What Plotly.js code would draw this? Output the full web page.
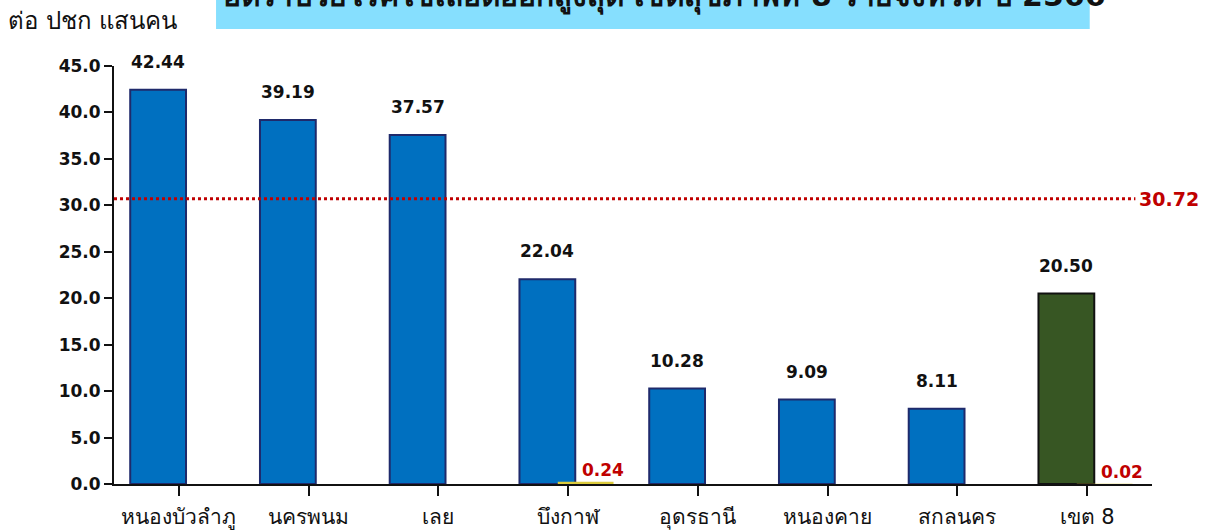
<!DOCTYPE html>
<html><head><meta charset="utf-8">
<script src="https://cdn.plot.ly/plotly-3.0.1.min.js"></script>
<style>body{margin:0;background:#fff}#c{width:1212px;height:530px}</style>
</head><body><div id="c"></div>
<script>
const provinces = ["หนองบัวลำภู","นครพนม","เลย","บึงกาฬ","อุดรธานี","หนองคาย","สกลนคร","เขต 8"];
const morbidity = [42.44, 39.19, 37.57, 22.04, 10.28, 9.09, 8.11, 20.50];
const mortality = [0, 0, 0, 0.24, 0, 0, 0, 0.02];
const countryRate = 30.72;
const yTicks = [0,5,10,15,20,25,30,35,40,45];
const titleText = "อัตราป่วยโรคไข้เลือดออกสูงสุด เขตสุขภาพที่ 8 รายจังหวัด ปี 2566";
const yTitle = "ต่อ ปชก แสนคน";

const F = "'DejaVu Sans', Tahoma, 'Noto Sans', sans-serif";
const xIdx = provinces.map((_, i) => i);
const barColors = provinces.map((p, i) => i === provinces.length - 1 ? "#375623" : "#0070c0");
const lineColors = provinces.map((p, i) => i === provinces.length - 1 ? "#111" : "#1f2a6b");

const traces = [
  {type: "bar", x: xIdx, y: morbidity, offset: -0.375, width: 0.43,
   marker: {color: barColors, line: {color: lineColors, width: 2}}, hoverinfo: "skip"},
  {type: "bar", x: xIdx, y: mortality, offset: -0.08, width: 0.43,
   marker: {color: "#dccb3c", line: {width: 0}}, hoverinfo: "skip"}
];

const annotations = [];
morbidity.forEach((v, i) => annotations.push({
  x: i - 0.16, y: v, xref: "x", yref: "y", text: v.toFixed(2), showarrow: false,
  yanchor: "bottom", yshift: 16, font: {family: F, size: 17, color: "#111", weight: "bold"}
}));
mortality.forEach((v, i) => { if (v > 0) annotations.push({
  x: i + 0.27, y: v, xref: "x", yref: "y", text: v.toFixed(2), showarrow: false,
  yanchor: "bottom", yshift: 0, font: {family: F, size: 17, color: "#c00000", weight: "bold"}
}); });
annotations.push({x: 0.986, y: countryRate, xref: "paper", yref: "y", text: countryRate.toFixed(2),
  showarrow: false, xanchor: "left", font: {family: F, size: 19, color: "#c00000", weight: "bold"}});
annotations.push({x: -0.104, y: 1.108, xref: "paper", yref: "paper", text: yTitle, showarrow: false,
  xanchor: "left", yanchor: "middle", font: {family: F, size: 24, color: "#111"}});
annotations.push({x: 0.5305, y: 1.118, xref: "paper", yref: "paper", text: titleText, showarrow: false,
  xanchor: "center", yanchor: "bottom", font: {family: F, size: 30, color: "#111", weight: "bold"}});

const layout = {
  width: 1212, height: 530,
  margin: {l: 114, r: 60, t: 66, b: 46},
  paper_bgcolor: "#fff", plot_bgcolor: "#fff",
  showlegend: false, barmode: "overlay",
  xaxis: {range: [-0.5, 7.5], tickvals: xIdx, ticktext: provinces, tickson: "boundaries",
    ticks: "outside", ticklen: 10, tickwidth: 2, tickcolor: "#111", ticklabelstandoff: 3,
    showline: true, linecolor: "#111", linewidth: 2, showgrid: false, zeroline: false,
    tickfont: {family: F, size: 21, color: "#111"}, fixedrange: true},
  yaxis: {range: [0, 45], tickvals: yTicks, ticktext: yTicks.map(t => t.toFixed(1)),
    ticks: "outside", ticklen: 8, tickwidth: 2, tickcolor: "#111",
    showline: true, linecolor: "#111", linewidth: 2, showgrid: false, zeroline: false,
    tickfont: {family: F, size: 17, color: "#111", weight: "bold"}, fixedrange: true},
  shapes: [
    {type: "rect", xref: "paper", yref: "paper", x0: 0.0983, x1: 0.940, y0: 1.0885, y1: 1.2,
     fillcolor: "#86dffe", line: {width: 0}, layer: "below"},
    {type: "line", xref: "paper", yref: "y", x0: 0, x1: 0.984, y0: countryRate, y1: countryRate,
     line: {color: "#c00000", width: 3, dash: "dot"}}
  ],
  annotations: annotations
};
Plotly.newPlot("c", traces, layout, {displayModeBar: false, staticPlot: true});
</script></body></html>
